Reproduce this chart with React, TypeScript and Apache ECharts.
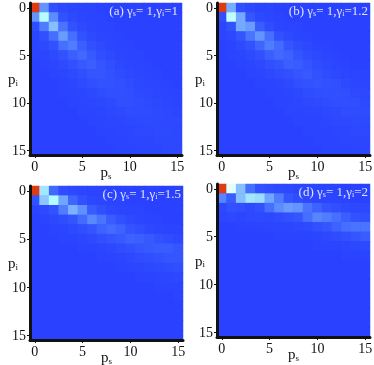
import React, { useEffect, useRef } from "react";
import * as echarts from "echarts";

const ticks = Array.from({ length: 16 }, (_, i) => String(i));
const shownTicks = ["0", "5", "10", "15"];

const panelA = [
  [100, 28, 6, 3, 2, 1, 1, 0, 0, 0, 0, 0, 0, 0, 0, 0],
  [28, 51, 26, 8, 4, 2, 1, 1, 0, 0, 0, 0, 0, 0, 0, 0],
  [5, 22, 38, 20, 8, 4, 2, 1, 1, 0, 0, 0, 0, 0, 0, 0],
  [2, 7, 18, 30, 18, 8, 4, 2, 1, 1, 0, 0, 0, 0, 0, 0],
  [1, 4, 8, 18, 22, 13, 7, 4, 2, 1, 1, 0, 0, 0, 0, 0],
  [1, 2, 4, 8, 13, 16, 11, 6, 4, 2, 1, 1, 0, 0, 0, 0],
  [0, 1, 2, 4, 7, 11, 13, 10, 6, 3, 2, 1, 1, 0, 0, 0],
  [0, 0, 1, 2, 4, 6, 10, 10, 8, 5, 3, 2, 1, 1, 0, 0],
  [0, 0, 0, 1, 2, 4, 6, 8, 8, 7, 5, 3, 2, 1, 1, 0],
  [0, 0, 0, 1, 1, 2, 3, 5, 7, 7, 6, 4, 3, 2, 1, 1],
  [0, 0, 0, 0, 1, 1, 2, 3, 4, 6, 6, 5, 4, 3, 2, 1],
  [0, 0, 0, 0, 0, 1, 1, 2, 3, 4, 5, 5, 5, 4, 3, 2],
  [0, 0, 0, 0, 0, 0, 1, 1, 2, 2, 3, 4, 4, 4, 3, 3],
  [0, 0, 0, 0, 0, 0, 0, 1, 1, 2, 2, 3, 3, 4, 4, 3],
  [0, 0, 0, 0, 0, 0, 0, 0, 1, 1, 1, 2, 2, 3, 3, 3],
  [0, 0, 0, 0, 0, 0, 0, 0, 0, 1, 1, 1, 2, 2, 3, 3],
];

const panelB = [
  [100, 34, 6, 3, 1, 1, 0, 0, 0, 0, 0, 0, 0, 0, 0, 0],
  [6, 53, 33, 10, 4, 2, 1, 0, 0, 0, 0, 0, 0, 0, 0, 0],
  [2, 8, 33, 30, 12, 5, 2, 1, 1, 0, 0, 0, 0, 0, 0, 0],
  [1, 3, 9, 20, 28, 18, 7, 4, 2, 1, 0, 0, 0, 0, 0, 0],
  [0, 1, 4, 8, 15, 22, 17, 10, 5, 3, 1, 1, 0, 0, 0, 0],
  [0, 1, 2, 4, 7, 13, 16, 14, 9, 5, 3, 2, 1, 0, 0, 0],
  [0, 0, 1, 2, 3, 6, 9, 13, 12, 9, 5, 3, 2, 1, 0, 0],
  [0, 0, 0, 1, 2, 3, 5, 7, 10, 11, 8, 5, 3, 2, 1, 1],
  [0, 0, 0, 0, 1, 1, 2, 4, 6, 8, 9, 8, 6, 4, 2, 2],
  [0, 0, 0, 0, 0, 1, 1, 2, 3, 5, 6, 7, 7, 6, 4, 3],
  [0, 0, 0, 0, 0, 0, 1, 1, 2, 3, 4, 5, 6, 6, 6, 4],
  [0, 0, 0, 0, 0, 0, 0, 1, 1, 2, 2, 3, 4, 5, 5, 5],
  [0, 0, 0, 0, 0, 0, 0, 0, 1, 1, 1, 2, 3, 3, 4, 4],
  [0, 0, 0, 0, 0, 0, 0, 0, 0, 1, 1, 1, 2, 2, 3, 3],
  [0, 0, 0, 0, 0, 0, 0, 0, 0, 0, 1, 1, 1, 2, 2, 2],
  [0, 0, 0, 0, 0, 0, 0, 0, 0, 0, 0, 1, 1, 1, 1, 2],
];

const panelC = [
  [100, 46, 16, 5, 3, 2, 1, 1, 0, 0, 0, 0, 0, 0, 0, 0],
  [8, 40, 50, 32, 15, 7, 3, 2, 1, 1, 0, 0, 0, 0, 0, 0],
  [1, 4, 8, 22, 35, 27, 12, 6, 3, 2, 1, 1, 0, 0, 0, 0],
  [0, 1, 3, 5, 9, 17, 25, 20, 12, 7, 4, 2, 1, 1, 0, 0],
  [0, 0, 1, 2, 4, 6, 10, 14, 17, 14, 9, 6, 3, 2, 1, 1],
  [0, 0, 0, 1, 1, 2, 4, 6, 9, 11, 14, 13, 11, 8, 5, 3],
  [0, 0, 0, 0, 0, 1, 1, 2, 3, 5, 7, 10, 11, 12, 12, 10],
  [0, 0, 0, 0, 0, 0, 0, 1, 1, 2, 3, 5, 6, 8, 10, 10],
  [0, 0, 0, 0, 0, 0, 0, 0, 0, 1, 1, 2, 3, 4, 5, 6],
  [0, 0, 0, 0, 0, 0, 0, 0, 0, 0, 0, 1, 1, 2, 2, 3],
  [0, 0, 0, 0, 0, 0, 0, 0, 0, 0, 0, 0, 0, 1, 1, 1],
  [0, 0, 0, 0, 0, 0, 0, 0, 0, 0, 0, 0, 0, 0, 0, 1],
  [0, 0, 0, 0, 0, 0, 0, 0, 0, 0, 0, 0, 0, 0, 0, 0],
  [0, 0, 0, 0, 0, 0, 0, 0, 0, 0, 0, 0, 0, 0, 0, 0],
  [0, 0, 0, 0, 0, 0, 0, 0, 0, 0, 0, 0, 0, 0, 0, 0],
  [0, 0, 0, 0, 0, 0, 0, 0, 0, 0, 0, 0, 0, 0, 0, 0],
];

const panelD = [
  [100, 58, 38, 18, 8, 5, 4, 3, 2, 2, 1, 1, 1, 0, 0, 0],
  [24, 12, 38, 46, 44, 32, 22, 10, 5, 3, 2, 2, 1, 1, 0, 0],
  [3, 8, 6, 4, 7, 18, 26, 30, 28, 20, 14, 9, 6, 4, 3, 3],
  [2, 3, 2, 3, 4, 3, 5, 7, 10, 18, 24, 22, 18, 13, 8, 6],
  [0, 0, 1, 1, 1, 2, 2, 2, 3, 4, 7, 10, 14, 18, 20, 20],
  [0, 0, 0, 0, 0, 0, 1, 1, 1, 1, 2, 3, 5, 7, 10, 12],
  [0, 0, 0, 0, 0, 0, 0, 0, 0, 0, 1, 1, 1, 2, 3, 4],
  [0, 0, 0, 0, 0, 0, 0, 0, 0, 0, 0, 0, 0, 1, 1, 1],
  [0, 0, 0, 0, 0, 0, 0, 0, 0, 0, 0, 0, 0, 0, 0, 0],
  [0, 0, 0, 0, 0, 0, 0, 0, 0, 0, 0, 0, 0, 0, 0, 0],
  [0, 0, 0, 0, 0, 0, 0, 0, 0, 0, 0, 0, 0, 0, 0, 0],
  [0, 0, 0, 0, 0, 0, 0, 0, 0, 0, 0, 0, 0, 0, 0, 0],
  [0, 0, 0, 0, 0, 0, 0, 0, 0, 0, 0, 0, 0, 0, 0, 0],
  [0, 0, 0, 0, 0, 0, 0, 0, 0, 0, 0, 0, 0, 0, 0, 0],
  [0, 0, 0, 0, 0, 0, 0, 0, 0, 0, 0, 0, 0, 0, 0, 0],
  [0, 0, 0, 0, 0, 0, 0, 0, 0, 0, 0, 0, 0, 0, 0, 0],
];

const panelTitles = [
  ["(a) γ", "= 1,γ", "=1"],
  ["(b) γ", "= 1,γ", "=1.2"],
  ["(c) γ", "= 1,γ", "=1.5"],
  ["(d) γ", "= 1,γ", "=2"],
];

const rampColors = [
  "#2a42ff", "#3556ff", "#4a74ff", "#6a9cff", "#8cc8ff", "#b0fcff",
  "#f0fff8", "#f8d080", "#f09050", "#e86030", "#e03a10",
];

const FONT = "Liberation Serif";
const frames = [
  { left: 30, top: 3, width: 152, height: 152, titleRight: 178 },
  { left: 217, top: 3, width: 153, height: 152, titleRight: 368 },
  { left: 30, top: 186, width: 153, height: 154, titleRight: 181 },
  { left: 217, top: 184, width: 153, height: 153, titleRight: 368 },
];

const subRich = {
  m: { fontFamily: FONT, fontSize: 15, color: "#111" },
  sub: { fontFamily: FONT, fontSize: 9, color: "#111", verticalAlign: "bottom", padding: [7, 0, 0, 0] },
};

export default function App() {
  const ref = useRef<HTMLDivElement>(null);
  useEffect(() => {
    const chart = echarts.init(ref.current!, undefined, { renderer: "svg" });
    const panels = [panelA, panelB, panelC, panelD];
    const keep = (_: number, v: string) => shownTicks.includes(v);
    chart.setOption({
      animation: false,
      backgroundColor: "#fff",
      grid: frames.map((f) => ({
        left: f.left, top: f.top, width: f.width, height: f.height,
        show: true, backgroundColor: "#2a42ff", borderWidth: 0,
        outerBoundsMode: "none",
      })),
      xAxis: frames.map((_, i) => ({
        type: "category",
        gridIndex: i,
        z: 20,
        data: ticks,
        position: "bottom",
        name: "{m|p}{sub|s}",
        nameLocation: "middle",
        nameGap: 9,
        nameMoveOverlap: false,
        nameTextStyle: { rich: subRich },
        axisLine: { lineStyle: { color: "#111", width: 3 } },
        axisTick: { show: true, alignWithLabel: true, interval: keep, length: 3, lineStyle: { color: "#111" } },
        axisLabel: { interval: keep, margin: 4, fontFamily: FONT, fontSize: 14, color: "#111" },
        splitLine: { show: false },
        splitArea: { show: false },
      })),
      yAxis: frames.map((_, i) => ({
        type: "category",
        gridIndex: i,
        z: 20,
        data: ticks,
        inverse: true,
        name: "{m|p}{sub|i}",
        nameLocation: "middle",
        nameRotate: 0,
        nameGap: 12,
        nameMoveOverlap: false,
        nameTextStyle: { rich: subRich },
        axisLine: { lineStyle: { color: "#111", width: 3 } },
        axisTick: { show: true, alignWithLabel: true, interval: keep, length: 3, lineStyle: { color: "#111" } },
        axisLabel: { interval: keep, margin: 4, fontFamily: FONT, fontSize: 14, color: "#111" },
        splitLine: { show: false },
        splitArea: { show: false },
      })),
      visualMap: {
        show: false,
        min: 0,
        max: 100,
        seriesIndex: [0, 1, 2, 3],
        inRange: { color: rampColors },
      },
      series: panels.map((rows, i) => ({
        type: "heatmap",
        xAxisIndex: i,
        yAxisIndex: i,
        data: rows.flatMap((row, y) => row.map((v, x) => [x, y, v])),
        itemStyle: { borderWidth: 0 },
        emphasis: { disabled: true },
        progressive: 0,
      })),
      graphic: panelTitles.map((t, i) => ({
        type: "text",
        z: 100,
        x: frames[i].titleRight,
        y: frames[i].top + 1,
        style: {
          text: `{m|${t[0]}}{s|s}{m|${t[1]}}{s|i}{m|${t[2]}}`,
          align: "right",
          rich: {
            m: { fontFamily: FONT, fontSize: 13, fill: "#dde4ff" },
            s: { fontFamily: FONT, fontSize: 8, fill: "#dde4ff", verticalAlign: "bottom", padding: [5, 0, 0, 0] },
          },
        },
      })),
    });
    return () => chart.dispose();
  }, []);
  return <div ref={ref} style={{ position: "absolute", left: 0, top: 0, width: 374, height: 365, filter: "blur(0.4px)" }} />;
}
